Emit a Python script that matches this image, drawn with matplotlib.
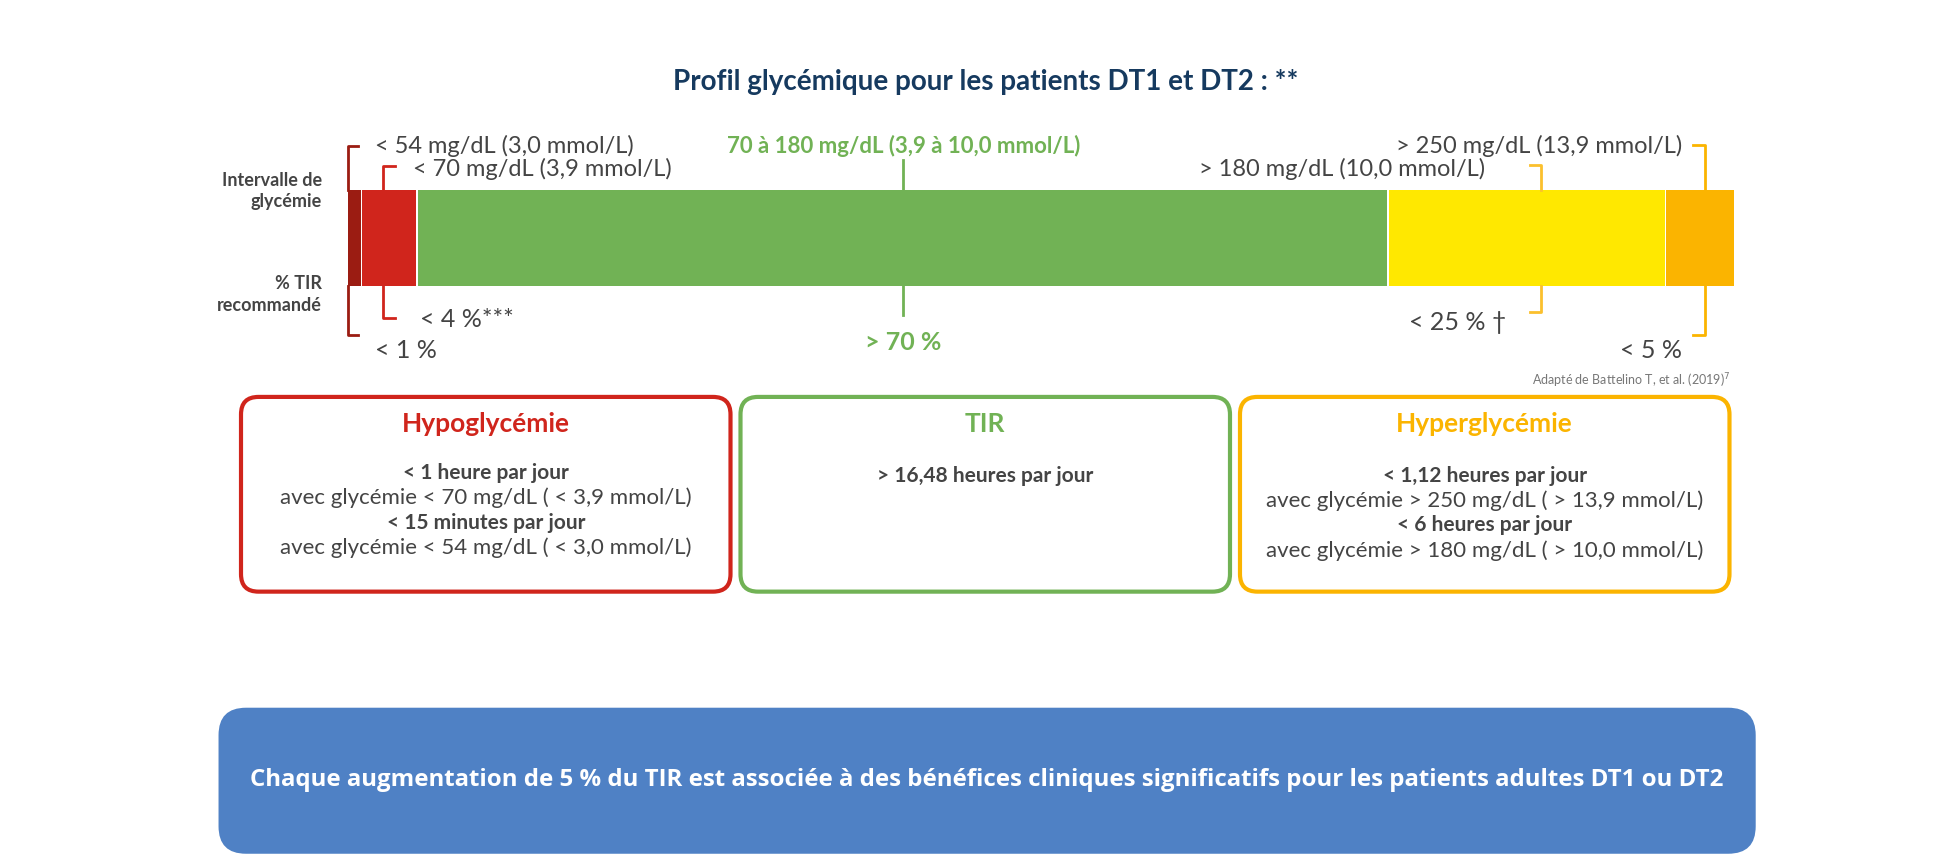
import numpy as np
import matplotlib.pyplot as plt
from matplotlib.patches import FancyBboxPatch, Rectangle

# Data
segments = ["< 54", "54-69", "70-180", "181-250", "> 250"]
seg_pct = [1, 4, 70, 20, 5]
seg_colors = ["#9b1c12", "#d0251c", "#71b255", "#ffe800", "#fbb400"]
range_labels = ["< 54 mg/dL (3,0 mmol/L)", "< 70 mg/dL (3,9 mmol/L)",
                "70 à 180 mg/dL (3,9 à 10,0 mmol/L)",
                "> 180 mg/dL (10,0 mmol/L)", "> 250 mg/dL (13,9 mmol/L)"]
target_labels = ["< 1 %", "< 4 %***", "> 70 %", "< 25 % †", "< 5 %"]

GRAY = "#444444"
FONT = "Lato"
LAB = 17
PCT = 18

fig = plt.figure(figsize=(19.58, 8.55), dpi=100)
ax = fig.add_axes([0, 0, 1, 1])
ax.set_xlim(0, 1568)
ax.set_ylim(685, 0)
ax.axis("off")

# bar geometry (display units)
x0, x1 = 279, 1390
y_top, y_bot = 152, 229
scale = (x1 - x0) / sum(seg_pct)
edges = x0 + np.concatenate([[0], np.cumsum(seg_pct)]) * scale
for i, c in enumerate(seg_colors):
    ax.add_patch(Rectangle((edges[i], y_top), edges[i + 1] - edges[i] - 1.2,
                           y_bot - y_top, color=c, lw=0))

ax.text(789, 66, "Profil glycémique pour les patients DT1 et DT2 : **", ha="center",
        va="center", fontsize=20, fontweight="bold", color="#163a5f", family=FONT)
ax.text(258, 153, "Intervalle de\nglycémie", ha="right", va="center", fontsize=13,
        fontweight="bold", color=GRAY, family=FONT, linespacing=1.3)
ax.text(258, 236, "% TIR\nrecommandé", ha="right", va="center", fontsize=13,
        fontweight="bold", color=GRAY, family=FONT, linespacing=1.3)

lw = 2
def bracket(x, ytop, ybot, tick, color):
    ax.plot([x + tick, x, x], [ytop, ytop, y_top], color=color, lw=lw)
    ax.plot([x, x, x + tick], [y_bot, ybot, ybot], color=color, lw=lw)

# dark red
bracket(279, 117, 268, 8, seg_colors[0])
ax.text(300, 117, range_labels[0], va="center", fontsize=LAB, color=GRAY, family=FONT)
ax.text(300, 281, target_labels[0], va="center", fontsize=PCT, color=GRAY, family=FONT)
# red
bracket(307, 133, 255, 9, seg_colors[1])
ax.text(331, 135, range_labels[1], va="center", fontsize=LAB, color=GRAY, family=FONT)
ax.text(336, 256, target_labels[1], va="center", fontsize=PCT, color=GRAY, family=FONT)
# green
xc = (edges[2] + edges[3]) / 2
ax.plot([xc, xc], [128, y_top], color=seg_colors[2], lw=lw)
ax.plot([xc, xc], [y_bot, 252], color=seg_colors[2], lw=lw)
ax.text(xc, 117, range_labels[2], ha="center", va="center", fontsize=16,
        fontweight="bold", color=seg_colors[2], family=FONT)
ax.text(xc, 274, target_labels[2], ha="center", va="center", fontsize=18,
        fontweight="bold", color=seg_colors[2], family=FONT)
# yellow
bracket(1234, 132, 250, -9, "#fbc02d")
ax.text(1189, 135, range_labels[3], ha="right", va="center", fontsize=LAB, color=GRAY, family=FONT)
ax.text(1206, 258, target_labels[3], ha="right", va="center", fontsize=PCT, color=GRAY, family=FONT)
# orange
bracket(1365, 116, 268, -9, seg_colors[4])
ax.text(1347, 117, range_labels[4], ha="right", va="center", fontsize=LAB, color=GRAY, family=FONT)
ax.text(1347, 281, target_labels[4], ha="right", va="center", fontsize=PCT, color=GRAY, family=FONT)

ax.text(1386, 305, "Adapté de Battelino T, et al. (2019)$^7$", ha="right", va="center",
        fontsize=9, color="#777777", family=FONT)

# boxes
boxes = [
    (193, "#d0251c", "Hypoglycémie",
     [("< 1 heure par jour", True), ("avec glycémie < 70 mg/dL ( < 3,9 mmol/L)", False),
      ("< 15 minutes par jour", True), ("avec glycémie < 54 mg/dL ( < 3,0 mmol/L)", False)], 379),
    (593, "#71b255", "TIR", [("> 16,48 heures par jour", True)], 381),
    (993, "#fbb400", "Hyperglycémie",
     [("< 1,12 heures par jour", True), ("avec glycémie > 250 mg/dL ( > 13,9 mmol/L)", False),
      ("< 6 heures par jour", True), ("avec glycémie > 180 mg/dL ( > 10,0 mmol/L)", False)], 381),
]
for bx, col, title, lines, ystart in boxes:
    ax.add_patch(FancyBboxPatch((bx, 318), 392, 156, boxstyle="round,pad=0,rounding_size=14",
                                fc="white", ec=col, lw=3))
    cx = bx + 196
    ax.text(cx, 340, title, ha="center", va="center", fontsize=19, fontweight="bold",
            color=col, family=FONT)
    for k, (t, b) in enumerate(lines):
        ax.text(cx, ystart + k * 20, t, ha="center", va="center",
                fontsize=15 if b else 16, fontweight="bold" if b else "normal",
                color=GRAY, family=FONT)

ax.add_patch(FancyBboxPatch((175, 567), 1231, 117, boxstyle="round,pad=0,rounding_size=22",
                            fc="#4f81c5", ec="none"))
ax.text(790, 625, "Chaque augmentation de 5 % du TIR est associée à des bénéfices cliniques "
        "significatifs pour les patients adultes DT1 ou DT2", ha="center", va="center",
        fontsize=17.3, fontweight="bold", color="white", family="Open Sans")

fig.savefig("out.png", dpi=100)
